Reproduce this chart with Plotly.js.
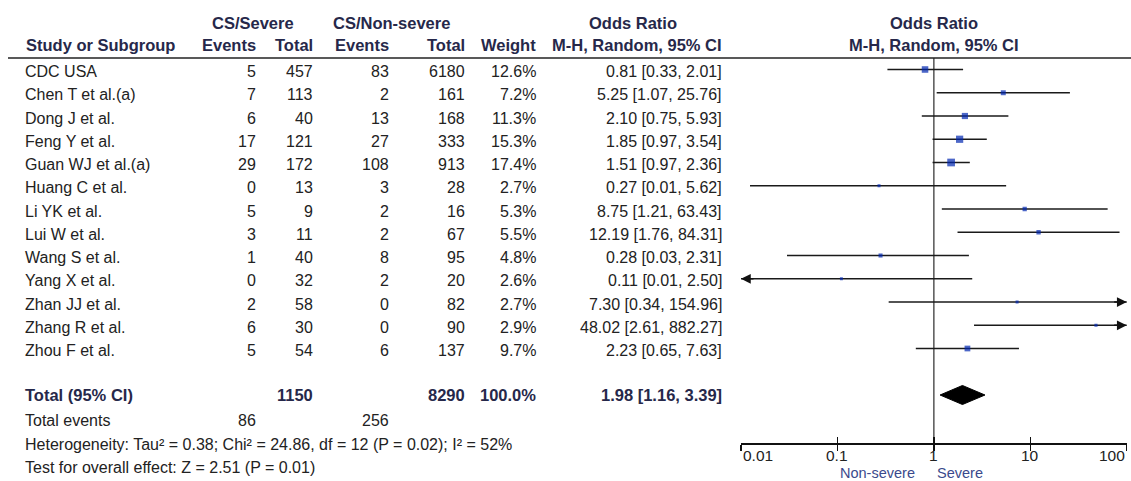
<!DOCTYPE html>
<html><head><meta charset="utf-8">
<script src="https://cdn.plot.ly/plotly-3.0.1.min.js"></script>
<style>html,body{margin:0;padding:0;background:#fff;}#chart{width:1131px;height:481px;}</style>
</head><body><div id="chart"></div>
<script>
// ---------------- data ----------------
const studies = ["CDC USA","Chen T et al.(a)","Dong J et al.","Feng Y et al.","Guan WJ et al.(a)","Huang C et al.","Li YK et al.","Lui W et al.","Wang S et al.","Yang X et al.","Zhan JJ et al.","Zhang R et al.","Zhou F et al."];
const severeEvents = [5,7,6,17,29,0,5,3,1,0,2,6,5];
const severeTotal = [457,113,40,121,172,13,9,11,40,32,58,30,54];
const nonSevereEvents = [83,2,13,27,108,3,2,2,8,2,0,0,6];
const nonSevereTotal = [6180,161,168,333,913,28,16,67,95,20,82,90,137];
const weights = [12.6,7.2,11.3,15.3,17.4,2.7,5.3,5.5,4.8,2.6,2.7,2.9,9.7];
const oddsRatio = [0.81,5.25,2.10,1.85,1.51,0.27,8.75,12.19,0.28,0.11,7.30,48.02,2.23];
const ciLower = [0.33,1.07,0.75,0.97,0.97,0.0124,1.21,1.76,0.03,0.006,0.34,2.61,0.65];
const ciUpper = [2.01,25.76,5.93,3.54,2.36,5.62,63.43,84.31,2.31,2.50,154.96,882.27,7.63];
const totalSevere = 1150, totalNonSevere = 8290, totalWeight = 100.0;
const totalEventsSevere = 86, totalEventsNonSevere = 256;
const pooledOR = 1.98, pooledLower = 1.16, pooledUpper = 3.39;
const nullValue = 1;
const heterogeneityText = "Heterogeneity: Tau\u00b2 = 0.38; Chi\u00b2 = 24.86, df = 12 (P = 0.02); I\u00b2 = 52%";
const overallEffectText = "Test for overall effect: Z = 2.51 (P = 0.01)";
const tickValues = [0.01,0.1,1,10,100];
const tickLabels = ["0.01","0.1","1","10","100"];
const favoursLeft = "Non-severe", favoursRight = "Severe";

// ---------------- layout helpers ----------------
const W = 1131, H = 481;
const ROW0 = 69.5, ROWH = 23.25;
const AXIS_PY = 443;
const axisPos = 1 - AXIS_PY / H;
const axisRow = (AXIS_PY - ROW0) / ROWH;
const xDomain = [741 / W, 1126.7 / W];
const FONT = "Liberation Sans, Arial, sans-serif";
const REG = {family: FONT, size: 16, color: "#222"};
const BOLD = {family: FONT, size: 16.5, color: "#26284a", weight: 700};
const rows = studies.map((s, i) => i);
const totalRow = studies.length + 1;

function txt(text, px, row, anchor, font, yshift) {
  return {text: String(text), x: px / W, xref: "paper", y: row, yref: "y",
    xanchor: anchor, yanchor: "middle", showarrow: false, font: font, yshift: yshift || 0};
}
const f2 = v => v.toFixed(2);
const ciText = (o, l, u) => f2(o) + " [" + f2(l) + ", " + f2(u) + "]";

const ann = [];
// headers
ann.push(txt("CS/Severe", 252.5, -2, "center", BOLD, 0.5));
ann.push(txt("CS/Non-severe", 391, -2, "center", BOLD, 0.5));
ann.push(txt("Odds Ratio", 632.5, -2, "center", BOLD, 0.5));
ann.push(txt("Odds Ratio", 933.5, -2, "center", BOLD, 0.5));
ann.push(txt("Study or Subgroup", 24, -1, "left", BOLD, 1));
ann.push(txt("Events", 258, -1, "right", BOLD, 1));
ann.push(txt("Total", 315, -1, "right", BOLD, 1));
ann.push(txt("Events", 390.5, -1, "right", BOLD, 1));
ann.push(txt("Total", 467, -1, "right", BOLD, 1));
ann.push(txt("Weight", 538, -1, "right", BOLD, 1));
ann.push(txt("M-H, Random, 95% CI", 724, -1, "right", BOLD, 1));
ann.push(txt("M-H, Random, 95% CI", 933.5, -1, "center", BOLD, 1));
// study rows
studies.forEach((s, i) => {
  const sh = -2;
  ann.push(txt(s, 23, rows[i], "left", REG, sh));
  ann.push(txt(severeEvents[i], 258, rows[i], "right", REG, sh));
  ann.push(txt(severeTotal[i], 315, rows[i], "right", REG, sh));
  ann.push(txt(nonSevereEvents[i], 390.5, rows[i], "right", REG, sh));
  ann.push(txt(nonSevereTotal[i], 467, rows[i], "right", REG, sh));
  ann.push(txt(weights[i].toFixed(1) + "%", 538, rows[i], "right", REG, sh));
  ann.push(txt(ciText(oddsRatio[i], ciLower[i], ciUpper[i]), 724, rows[i], "right", REG, sh));
});
// total rows
ann.push(txt("Total (95% CI)", 23, totalRow, "left", BOLD, 0));
ann.push(txt(totalSevere, 315, totalRow, "right", BOLD, 0));
ann.push(txt(totalNonSevere, 467, totalRow, "right", BOLD, 0));
ann.push(txt(totalWeight.toFixed(1) + "%", 538, totalRow, "right", BOLD, 0));
ann.push(txt(ciText(pooledOR, pooledLower, pooledUpper), 724, totalRow, "right", BOLD, 0));
ann.push(txt("Total events", 23, totalRow + 1, "left", REG, -2.6));
ann.push(txt(totalEventsSevere, 258, totalRow + 1, "right", REG, -2.6));
ann.push(txt(totalEventsNonSevere, 390.5, totalRow + 1, "right", REG, -2.6));
ann.push(txt(heterogeneityText, 23, totalRow + 2, "left", REG, -2.7));
ann.push(txt(overallEffectText, 23, totalRow + 3, "left", REG, -2.7));

// tick labels on forest axis
const TICKF = {family: FONT, size: 15.5, color: "#222"};
tickValues.forEach((v, i) => {
  ann.push({text: tickLabels[i], x: Math.log10(v), xref: "x", y: 1 - 455.5 / H, yref: "paper",
    xanchor: i === 0 ? "left" : (i === tickValues.length - 1 ? "right" : "center"),
    yanchor: "middle", showarrow: false, font: TICKF});
});
// favours labels
const FAV = {family: FONT, size: 14.5, color: "#3b4a8c"};
ann.push({text: favoursLeft, x: Math.log10(nullValue), xref: "x", y: 1 - 472.6 / H, yref: "paper",
  xanchor: "right", yanchor: "middle", xshift: -17, showarrow: false, font: FAV});
ann.push({text: favoursRight, x: Math.log10(nullValue), xref: "x", y: 1 - 472.6 / H, yref: "paper",
  xanchor: "left", yanchor: "middle", xshift: 1, showarrow: false, font: FAV});

// arrows for CIs beyond the axis range
const xMin = tickValues[0], xMax = tickValues[tickValues.length - 1];
studies.forEach((s, i) => {
  if (ciLower[i] < xMin) ann.push({x: Math.log10(xMin), y: rows[i], xref: "x", yref: "y", ax: 14, ay: 0,
    showarrow: true, arrowhead: 2, arrowsize: 1.3, arrowwidth: 1.5, arrowcolor: "#111", text: ""});
  if (ciUpper[i] > xMax) ann.push({x: Math.log10(xMax), y: rows[i], xref: "x", yref: "y", ax: -14, ay: 0,
    showarrow: true, arrowhead: 2, arrowsize: 1.3, arrowwidth: 1.5, arrowcolor: "#111", text: ""});
});

// ---------------- traces ----------------
const ciX = [], ciY = [];
studies.forEach((s, i) => { ciX.push(ciLower[i], ciUpper[i], null); ciY.push(rows[i], rows[i], null); });

const traces = [
  {type: "scatter", mode: "lines", x: [nullValue, nullValue], y: [-0.5, axisRow],
    line: {color: "#555", width: 1.5}, hoverinfo: "skip"},
  {type: "scatter", mode: "lines", x: ciX, y: ciY, line: {color: "#1a1a1a", width: 1.5}, hoverinfo: "skip"},
  {type: "scatter", mode: "markers", x: oddsRatio, y: rows,
    marker: {symbol: "square", color: "#0026b0", size: weights.map(w => 1.85 * Math.sqrt(w)), line: {width: 0}},
    hoverinfo: "skip"},
  {type: "scatter", mode: "lines", fill: "toself", fillcolor: "#000",
    x: [pooledLower, pooledOR, pooledUpper, pooledOR, pooledLower],
    y: [totalRow, totalRow - 0.41, totalRow, totalRow + 0.41, totalRow],
    line: {color: "#000", width: 1}, hoverinfo: "skip"},
  {type: "scatter", mode: "markers", x: [], y: [], xaxis: "x2", yaxis: "y", hoverinfo: "skip"}
];

const layout = {
  width: W, height: H,
  margin: {l: 0, r: 0, t: 0, b: 0},
  paper_bgcolor: "#fff", plot_bgcolor: "rgba(0,0,0,0)",
  showlegend: false,
  xaxis: {type: "log", range: [Math.log10(xMin), Math.log10(xMax)], domain: xDomain,
    anchor: "free", position: axisPos, showline: true, linecolor: "#111", linewidth: 1.5,
    ticks: "outside", ticklen: 6, tickwidth: 1.5, tickcolor: "#111", tickvals: tickValues,
    showticklabels: false, showgrid: false, zeroline: false, fixedrange: true},
  xaxis2: {type: "log", range: [Math.log10(xMin), Math.log10(xMax)], overlaying: "x", domain: xDomain,
    anchor: "free", position: axisPos, showline: false,
    ticks: "inside", ticklen: 6, tickwidth: 1.5, tickcolor: "#111", tickvals: tickValues,
    showticklabels: false, showgrid: false, zeroline: false, fixedrange: true},
  yaxis: {range: [(H - ROW0) / ROWH, -ROW0 / ROWH], domain: [0, 1], visible: false,
    showgrid: false, zeroline: false, fixedrange: true},
  shapes: [
    {type: "line", xref: "paper", x0: 8 / W, x1: 1, yref: "y", y0: -0.5, y1: -0.5,
      line: {color: "#222", width: 1.5}}
  ],
  annotations: ann
};

Plotly.newPlot("chart", traces, layout, {displayModeBar: false, staticPlot: true});
</script>
</body></html>
